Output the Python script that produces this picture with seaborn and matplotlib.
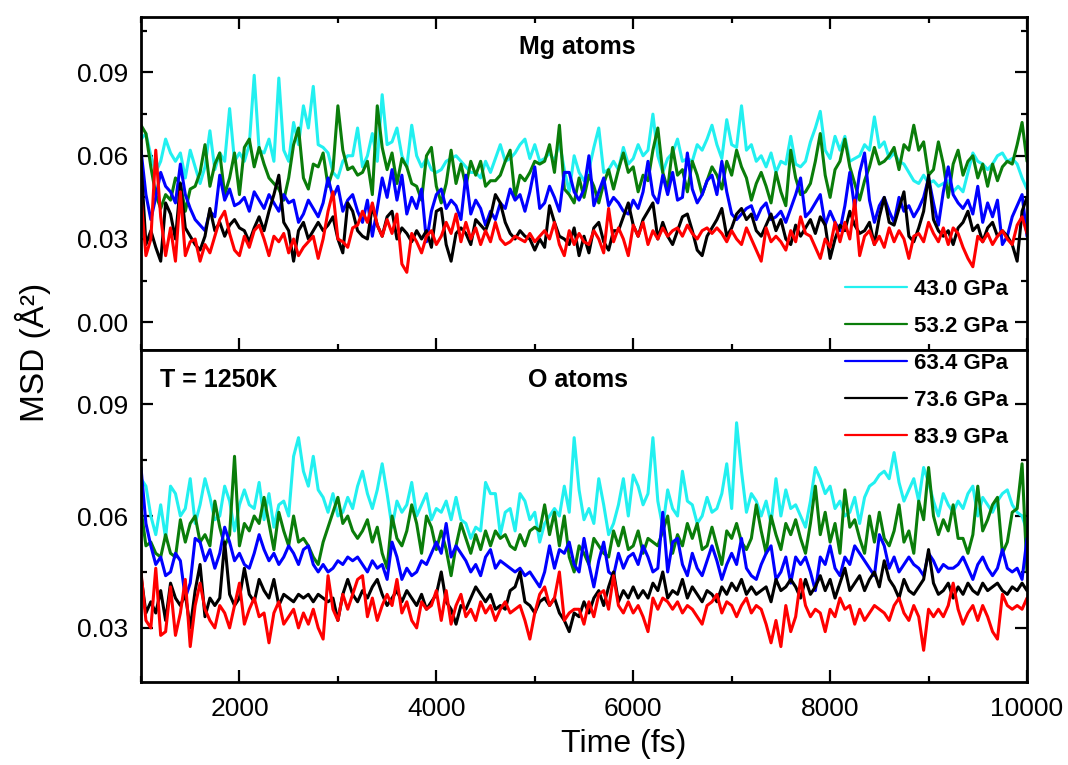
import numpy as np
import pandas as pd
import matplotlib
matplotlib.use("Agg")
import matplotlib.pyplot as plt
from matplotlib.ticker import MultipleLocator, FormatStrFormatter
import seaborn as sns

# ---------------- data (MSD in Å^2, sampled every 50 fs from 1000 to 10000 fs) ----------------
time_fs = np.arange(1000, 10001, 50)
pressures = ["43.0 GPa", "53.2 GPa", "63.4 GPa", "73.6 GPa", "83.9 GPa"]
line_colors = ["#22F0F0", "#0A7D0A", "#0000FF", "#000000", "#FF0000"]

# Mg atoms (top panel)
mg_430 = [0.066,0.068,0.060,0.054,0.058,0.066,0.061,0.058,0.061,0.052,
          0.062,0.056,0.050,0.056,0.069,0.055,0.061,0.058,0.077,0.058,
          0.061,0.058,0.064,0.089,0.062,0.061,0.066,0.058,0.088,0.062,
          0.058,0.072,0.064,0.078,0.070,0.085,0.064,0.063,0.061,0.054,
          0.052,0.058,0.060,0.060,0.070,
          0.056,0.060,0.068,0.058,0.082,0.064,0.065,0.070,0.060,0.056,
          0.071,0.060,0.056,0.059,0.055,0.054,0.055,0.058,0.059,0.060,
          0.058,0.056,0.054,0.054,0.052,0.058,0.054,0.059,0.064,0.058,
          0.059,0.061,0.064,0.066,0.059,0.064,0.058,0.059,0.061,0.058,
          0.065,0.055,0.047,0.060,
          0.054,0.051,0.055,0.063,0.070,0.054,0.055,0.058,0.055,0.063,
          0.057,0.059,0.064,0.060,0.062,0.075,0.060,0.054,0.059,0.061,
          0.066,0.058,0.059,0.058,0.064,0.062,0.066,0.071,0.064,0.059,
          0.073,0.064,0.063,0.078,0.062,0.064,0.058,0.060,0.056,0.061,
          0.054,0.058,0.057,0.067,
          0.057,0.056,0.058,0.065,0.070,0.076,0.062,0.059,0.067,0.062,
          0.067,0.058,0.059,0.060,0.064,0.062,0.074,0.063,0.065,0.059,
          0.061,0.058,0.057,0.054,0.051,0.050,0.053,0.050,0.051,0.049,
          0.050,0.051,0.047,0.049,0.047,0.054,0.061,0.058,0.057,0.055,
          0.057,0.060,0.061,0.058,0.059,0.057,0.052,0.048]
mg_532 = [0.071,0.068,0.056,0.046,0.041,0.046,0.044,0.052,0.050,0.040,
          0.048,0.049,0.054,0.064,0.049,0.057,0.061,0.046,0.052,0.061,
          0.046,0.063,0.066,0.056,0.063,0.057,0.052,0.050,0.048,0.044,
          0.052,0.064,0.070,0.052,0.048,0.057,0.056,0.061,0.049,0.055,
          0.078,0.062,0.055,0.056,0.053,
          0.054,0.058,0.046,0.078,0.063,0.055,0.061,0.050,0.059,0.056,
          0.050,0.049,0.044,0.060,0.063,0.049,0.043,0.050,0.062,0.050,
          0.057,0.049,0.058,0.053,0.058,0.049,0.051,0.051,0.053,0.058,
          0.062,0.045,0.053,0.051,0.054,0.058,0.057,0.058,0.064,0.054,
          0.071,0.048,0.046,0.043,
          0.052,0.045,0.053,0.049,0.043,0.050,0.055,0.048,0.055,0.061,
          0.054,0.056,0.047,0.053,0.051,0.062,0.070,0.054,0.048,0.063,
          0.053,0.055,0.047,0.058,0.053,0.046,0.051,0.056,0.053,0.048,
          0.058,0.053,0.062,0.056,0.052,0.044,0.050,0.054,0.049,0.043,
          0.054,0.047,0.042,0.062,
          0.052,0.046,0.047,0.050,0.058,0.068,0.053,0.045,0.055,0.058,
          0.066,0.056,0.050,0.044,0.051,0.056,0.063,0.057,0.058,0.060,
          0.063,0.055,0.064,0.062,0.071,0.062,0.065,0.053,0.055,0.065,
          0.057,0.045,0.057,0.062,0.053,0.058,0.060,0.052,0.057,0.049,
          0.057,0.051,0.056,0.058,0.057,0.064,0.072,0.058]
mg_634 = [0.062,0.046,0.037,0.045,0.054,0.049,0.047,0.043,0.057,0.046,
          0.041,0.037,0.035,0.033,0.040,0.038,0.053,0.044,0.048,0.042,
          0.043,0.045,0.040,0.047,0.044,0.041,0.046,0.043,0.040,0.046,
          0.043,0.044,0.036,0.039,0.044,0.041,0.038,0.043,0.052,0.045,
          0.049,0.040,0.044,0.046,0.040,
          0.036,0.044,0.031,0.041,0.052,0.045,0.055,0.044,0.053,0.039,
          0.045,0.041,0.048,0.029,0.040,0.046,0.048,0.041,0.044,0.042,
          0.037,0.053,0.039,0.044,0.041,0.035,0.040,0.037,0.043,0.041,
          0.048,0.044,0.046,0.040,0.047,0.056,0.041,0.043,0.049,0.045,
          0.040,0.054,0.054,0.047,
          0.044,0.048,0.060,0.042,0.047,0.052,0.042,0.045,0.043,0.040,
          0.039,0.044,0.041,0.047,0.058,0.046,0.043,0.053,0.046,0.054,
          0.044,0.045,0.061,0.048,0.043,0.046,0.051,0.053,0.046,0.058,
          0.047,0.039,0.037,0.039,0.041,0.042,0.037,0.041,0.043,0.037,
          0.038,0.040,0.036,0.041,
          0.046,0.052,0.038,0.040,0.043,0.046,0.035,0.040,0.036,0.033,
          0.042,0.054,0.041,0.054,0.061,0.044,0.036,0.042,0.045,0.040,
          0.036,0.045,0.040,0.042,0.038,0.041,0.045,0.052,0.043,0.035,
          0.047,0.056,0.046,0.043,0.041,0.044,0.039,0.049,0.036,0.043,
          0.038,0.044,0.028,0.031,0.038,0.042,0.046,0.031]
mg_736 = [0.058,0.028,0.033,0.027,0.022,0.043,0.039,0.030,0.050,0.034,
          0.031,0.028,0.026,0.031,0.041,0.033,0.036,0.031,0.035,0.037,
          0.034,0.033,0.029,0.034,0.038,0.033,0.040,0.046,0.053,0.036,
          0.033,0.022,0.033,0.036,0.030,0.033,0.036,0.033,0.035,0.038,
          0.030,0.025,0.043,0.040,0.033,
          0.031,0.030,0.042,0.035,0.031,0.038,0.040,0.030,0.034,0.032,
          0.029,0.033,0.030,0.033,0.027,0.040,0.041,0.028,0.022,0.032,
          0.034,0.032,0.028,0.037,0.035,0.033,0.038,0.046,0.043,0.036,
          0.032,0.030,0.033,0.031,0.030,0.026,0.030,0.027,0.042,0.036,
          0.031,0.030,0.028,0.034,
          0.024,0.031,0.025,0.034,0.036,0.029,0.026,0.033,0.033,0.038,
          0.043,0.035,0.031,0.037,0.040,0.043,0.030,0.036,0.031,0.028,
          0.033,0.038,0.039,0.033,0.026,0.024,0.031,0.034,0.037,0.041,
          0.031,0.034,0.039,0.041,0.037,0.039,0.033,0.031,0.035,0.039,
          0.033,0.037,0.030,0.028,
          0.035,0.031,0.034,0.037,0.032,0.038,0.035,0.023,0.030,0.035,
          0.033,0.040,0.035,0.032,0.033,0.036,0.028,0.038,0.045,0.036,
          0.035,0.041,0.047,0.031,0.029,0.034,0.040,0.053,0.037,0.033,
          0.031,0.033,0.028,0.034,0.036,0.040,0.033,0.035,0.029,0.034,
          0.036,0.031,0.033,0.031,0.028,0.022,0.040,0.045]
mg_839 = [0.045,0.024,0.030,0.062,0.038,0.024,0.034,0.022,0.047,0.024,
          0.029,0.030,0.022,0.028,0.025,0.031,0.037,0.040,0.032,0.026,
          0.024,0.031,0.027,0.033,0.035,0.030,0.024,0.031,0.029,0.032,
          0.025,0.030,0.024,0.027,0.029,0.031,0.023,0.030,0.040,0.047,
          0.030,0.029,0.027,0.034,0.035,
          0.040,0.036,0.043,0.035,0.031,0.037,0.032,0.039,0.021,0.018,
          0.032,0.029,0.025,0.031,0.033,0.028,0.031,0.036,0.032,0.039,
          0.029,0.036,0.030,0.034,0.028,0.033,0.029,0.036,0.030,0.028,
          0.029,0.031,0.030,0.029,0.032,0.029,0.031,0.033,0.030,0.036,
          0.028,0.024,0.033,0.028,
          0.032,0.029,0.028,0.033,0.030,0.025,0.041,0.029,0.034,0.030,
          0.024,0.035,0.031,0.036,0.028,0.033,0.030,0.034,0.031,0.033,
          0.034,0.031,0.035,0.032,0.030,0.033,0.034,0.032,0.034,0.032,
          0.029,0.033,0.030,0.028,0.034,0.030,0.026,0.022,0.034,0.029,
          0.031,0.029,0.026,0.033,
          0.029,0.038,0.032,0.031,0.027,0.023,0.030,0.027,0.036,0.029,
          0.036,0.030,0.044,0.024,0.031,0.033,0.028,0.031,0.027,0.034,
          0.029,0.033,0.030,0.023,0.031,0.032,0.029,0.036,0.032,0.029,
          0.034,0.028,0.034,0.032,0.027,0.023,0.020,0.031,0.029,0.032,
          0.028,0.031,0.033,0.030,0.028,0.035,0.038,0.032]

# O atoms (bottom panel)
o_430 = [0.070,0.068,0.060,0.055,0.063,0.054,0.068,0.066,0.060,0.062,
         0.070,0.058,0.063,0.070,0.065,0.059,0.060,0.068,0.064,0.056,
         0.063,0.067,0.063,0.062,0.069,0.059,0.066,0.057,0.063,0.064,
         0.060,0.076,0.081,0.072,0.068,0.076,0.067,0.065,0.061,0.066,
         0.060,0.061,0.065,0.062,0.068,
         0.072,0.066,0.062,0.067,0.074,0.066,0.057,0.064,0.061,0.063,
         0.069,0.060,0.063,0.066,0.059,0.062,0.061,0.064,0.059,0.065,
         0.059,0.058,0.054,0.057,0.056,0.069,0.066,0.066,0.055,0.061,
         0.062,0.056,0.066,0.064,0.059,0.061,0.053,0.058,0.060,0.062,
         0.060,0.068,0.061,0.081,
         0.067,0.059,0.062,0.058,0.070,0.063,0.055,0.058,0.063,0.070,
         0.060,0.071,0.068,0.063,0.066,0.081,0.064,0.057,0.067,0.062,
         0.060,0.072,0.064,0.063,0.058,0.060,0.065,0.061,0.062,0.066,
         0.074,0.062,0.085,0.072,0.061,0.066,0.064,0.060,0.064,0.058,
         0.070,0.060,0.067,0.062,
         0.063,0.060,0.057,0.064,0.073,0.070,0.066,0.068,0.062,0.064,
         0.060,0.061,0.065,0.058,0.065,0.068,0.069,0.071,0.072,0.070,
         0.077,0.069,0.064,0.067,0.070,0.064,0.073,0.069,0.064,0.060,
         0.066,0.063,0.061,0.064,0.062,0.066,0.068,0.060,0.065,0.063,
         0.061,0.064,0.066,0.067,0.063,0.061,0.060,0.056]
o_532 = [0.062,0.052,0.053,0.050,0.049,0.055,0.050,0.049,0.059,0.053,
         0.058,0.060,0.053,0.055,0.052,0.064,0.057,0.052,0.055,0.076,
         0.052,0.058,0.056,0.060,0.058,0.065,0.058,0.051,0.061,0.056,
         0.052,0.060,0.053,0.054,0.052,0.049,0.047,0.053,0.057,0.061,
         0.065,0.058,0.060,0.056,0.054,
         0.056,0.059,0.053,0.057,0.050,0.046,0.060,0.054,0.052,0.056,
         0.063,0.058,0.050,0.060,0.057,0.051,0.056,0.051,0.044,0.052,
         0.058,0.054,0.050,0.055,0.051,0.056,0.052,0.056,0.054,0.055,
         0.052,0.051,0.055,0.052,0.056,0.057,0.056,0.063,0.055,0.061,
         0.052,0.060,0.049,0.045,
         0.052,0.050,0.047,0.054,0.052,0.050,0.049,0.056,0.052,0.057,
         0.051,0.052,0.056,0.050,0.054,0.053,0.052,0.056,0.060,0.050,
         0.055,0.052,0.058,0.054,0.058,0.051,0.052,0.057,0.052,0.047,
         0.056,0.054,0.058,0.053,0.051,0.054,0.063,0.056,0.050,0.060,
         0.055,0.051,0.058,0.055,
         0.059,0.054,0.050,0.058,0.068,0.055,0.061,0.053,0.058,0.050,
         0.067,0.057,0.059,0.054,0.050,0.060,0.053,0.061,0.054,0.052,
         0.056,0.063,0.053,0.056,0.050,0.064,0.059,0.073,0.060,0.055,
         0.059,0.056,0.063,0.054,0.054,0.050,0.055,0.068,0.056,0.059,
         0.063,0.065,0.050,0.053,0.061,0.062,0.074,0.045]
o_634 = [0.073,0.058,0.052,0.047,0.049,0.044,0.045,0.050,0.048,0.038,
         0.042,0.054,0.053,0.048,0.051,0.046,0.050,0.057,0.053,0.048,
         0.050,0.047,0.046,0.050,0.055,0.051,0.048,0.050,0.047,0.049,
         0.052,0.050,0.047,0.051,0.052,0.047,0.045,0.047,0.045,0.046,
         0.048,0.047,0.049,0.048,0.049,
         0.047,0.045,0.048,0.046,0.047,0.043,0.053,0.049,0.043,0.046,
         0.044,0.045,0.048,0.047,0.050,0.053,0.050,0.058,0.049,0.052,
         0.050,0.048,0.045,0.047,0.044,0.049,0.051,0.046,0.048,0.047,
         0.046,0.045,0.046,0.044,0.045,0.043,0.041,0.045,0.052,0.046,
         0.051,0.050,0.053,0.047,
         0.045,0.054,0.047,0.041,0.048,0.053,0.045,0.044,0.050,0.046,
         0.049,0.050,0.047,0.052,0.049,0.045,0.046,0.061,0.045,0.053,
         0.054,0.047,0.044,0.050,0.046,0.044,0.048,0.052,0.048,0.043,
         0.047,0.050,0.047,0.054,0.046,0.044,0.043,0.047,0.050,0.052,
         0.043,0.045,0.049,0.042,
         0.049,0.047,0.049,0.045,0.040,0.049,0.047,0.052,0.046,0.044,
         0.049,0.047,0.052,0.050,0.048,0.046,0.044,0.055,0.052,0.046,
         0.049,0.045,0.047,0.049,0.047,0.046,0.044,0.050,0.048,0.045,
         0.047,0.046,0.046,0.047,0.049,0.046,0.043,0.047,0.049,0.046,
         0.044,0.046,0.051,0.046,0.045,0.046,0.043,0.054]
o_736 = [0.044,0.034,0.037,0.034,0.040,0.032,0.042,0.038,0.036,0.039,
         0.030,0.040,0.047,0.033,0.038,0.036,0.038,0.053,0.039,0.036,
         0.038,0.046,0.039,0.037,0.043,0.040,0.038,0.043,0.036,0.039,
         0.038,0.037,0.039,0.038,0.039,0.037,0.039,0.038,0.037,0.038,
         0.032,0.039,0.043,0.039,0.037,
         0.040,0.038,0.041,0.043,0.039,0.036,0.038,0.040,0.037,0.040,
         0.038,0.036,0.039,0.035,0.037,0.039,0.045,0.037,0.035,0.031,
         0.036,0.035,0.038,0.041,0.039,0.037,0.039,0.035,0.036,0.035,
         0.040,0.041,0.045,0.037,0.036,0.034,0.037,0.038,0.036,0.038,
         0.034,0.032,0.029,0.034,
         0.033,0.037,0.034,0.038,0.040,0.036,0.041,0.045,0.037,0.040,
         0.038,0.041,0.038,0.040,0.038,0.042,0.040,0.045,0.038,0.040,
         0.039,0.043,0.038,0.041,0.039,0.037,0.040,0.039,0.037,0.041,
         0.039,0.042,0.040,0.043,0.039,0.041,0.039,0.040,0.041,0.037,
         0.043,0.040,0.041,0.043,
         0.041,0.038,0.043,0.039,0.041,0.044,0.040,0.043,0.038,0.042,
         0.046,0.040,0.042,0.044,0.040,0.043,0.045,0.041,0.048,0.043,
         0.041,0.038,0.043,0.040,0.039,0.041,0.043,0.051,0.042,0.039,
         0.040,0.042,0.038,0.041,0.039,0.042,0.040,0.039,0.042,0.040,
         0.041,0.042,0.040,0.039,0.041,0.040,0.042,0.040]
o_839 = [0.045,0.032,0.030,0.046,0.028,0.029,0.041,0.028,0.034,0.043,
         0.025,0.036,0.042,0.035,0.032,0.030,0.036,0.034,0.030,0.036,
         0.042,0.031,0.035,0.038,0.033,0.034,0.026,0.034,0.037,0.031,
         0.033,0.035,0.030,0.034,0.031,0.035,0.030,0.027,0.044,0.035,
         0.032,0.039,0.035,0.039,0.043,
         0.044,0.033,0.038,0.032,0.036,0.039,0.036,0.043,0.034,0.037,
         0.032,0.030,0.037,0.035,0.036,0.040,0.032,0.040,0.031,0.036,
         0.039,0.033,0.035,0.032,0.037,0.034,0.036,0.032,0.035,0.037,
         0.034,0.035,0.036,0.032,0.027,0.034,0.039,0.041,0.036,0.038,
         0.045,0.032,0.034,0.035,
         0.035,0.031,0.037,0.033,0.039,0.040,0.035,0.044,0.036,0.034,
         0.037,0.034,0.036,0.033,0.029,0.038,0.035,0.038,0.037,0.035,
         0.037,0.034,0.036,0.035,0.033,0.031,0.036,0.037,0.039,0.034,
         0.037,0.036,0.033,0.036,0.038,0.034,0.036,0.035,0.031,0.026,
         0.032,0.025,0.036,0.029,
         0.033,0.043,0.036,0.033,0.035,0.034,0.029,0.035,0.033,0.038,
         0.035,0.036,0.031,0.035,0.032,0.034,0.036,0.035,0.034,0.032,
         0.036,0.038,0.034,0.032,0.036,0.033,0.024,0.035,0.033,0.035,
         0.033,0.036,0.042,0.035,0.031,0.034,0.036,0.032,0.036,0.033,
         0.029,0.027,0.039,0.036,0.035,0.036,0.035,0.038]

mg_series = [mg_430, mg_532, mg_634, mg_736, mg_839]
o_series = [o_430, o_532, o_634, o_736, o_839]


def long_frame(series_list):
    frames = []
    for lab, vals in zip(pressures, series_list):
        frames.append(pd.DataFrame({"Time": time_fs, "MSD": vals, "Pressure": lab}))
    return pd.concat(frames, ignore_index=True)


# ---------------- style ----------------
sns.set_style("ticks")
plt.rcParams["font.family"] = ["Liberation Sans", "DejaVu Sans"]
plt.rcParams["text.color"] = "black"
plt.rcParams["axes.labelcolor"] = "black"
plt.rcParams["xtick.color"] = "black"
plt.rcParams["ytick.color"] = "black"
plt.rcParams["axes.edgecolor"] = "black"

W, H = 1068, 765
fig = plt.figure(figsize=(W / 100, H / 100), dpi=100)
left, right = 141, 1027
ax1 = fig.add_axes([left / W, 1 - 350 / H, (right - left) / W, 333 / H])
ax2 = fig.add_axes([left / W, 1 - 682 / H, (right - left) / W, 332 / H])

palette = dict(zip(pressures, line_colors))
for ax, series in ((ax1, mg_series), (ax2, o_series)):
    sns.lineplot(data=long_frame(series), x="Time", y="MSD", hue="Pressure",
                 hue_order=pressures, palette=palette, ax=ax, lw=2.2,
                 estimator=None, sort=False, legend=False)
    ax.set_xlim(1000, 10000)
    ax.set_xlabel("")
    ax.set_ylabel("")
    ax.xaxis.set_major_locator(MultipleLocator(2000))
    ax.xaxis.set_minor_locator(MultipleLocator(1000))
    ax.yaxis.set_major_locator(MultipleLocator(0.03))
    ax.yaxis.set_minor_locator(MultipleLocator(0.015))
    ax.yaxis.set_major_formatter(FormatStrFormatter("%.2f"))
    for sp in ax.spines.values():
        sp.set_linewidth(2.0)
        sp.set_color("black")
        sp.set_visible(True)
    ax.tick_params(which="both", direction="in", left=True, right=True,
                   bottom=True, width=1.6, color="black",
                   labelsize=19, labelcolor="black")
    ax.tick_params(which="major", length=8.5)
    ax.tick_params(which="minor", length=4.5)
    ax.tick_params(axis="y", pad=9)
    ax.tick_params(axis="x", pad=11)

ax1.set_ylim(-0.01, 0.11)
ax2.set_ylim(0.0155, 0.1045)
ax1.tick_params(which="both", top=True, labelbottom=False)
ax2.tick_params(which="both", top=False)

ax1.text(0.493, 0.91, "Mg atoms", transform=ax1.transAxes, ha="center",
         va="center", fontsize=18, fontweight="bold", color="black")
ax2.text(0.493, 0.91, "O atoms", transform=ax2.transAxes, ha="center",
         va="center", fontsize=18, fontweight="bold", color="black")
ax2.text(0.021, 0.91, "T = 1250K", transform=ax2.transAxes, ha="left",
         va="center", fontsize=18, fontweight="bold", color="black")

fig.text(33 / W, 1 - 352 / H, "MSD (Å²)", rotation=90, ha="center",
         va="center", fontsize=24, color="black")
fig.text(624 / W, 1 - 744 / H, "Time (fs)", ha="center", va="center",
         fontsize=23, color="black")

handles = list(ax1.lines[:5])
leg = fig.legend(handles=handles, labels=pressures, loc="upper left",
                 bbox_to_anchor=(845 / W, 1 - 279 / H), frameon=False,
                 borderpad=0, borderaxespad=0, handlelength=2.8,
                 handletextpad=0.3, labelspacing=0.72,
                 prop={"size": 16, "weight": "bold"})
for ln in leg.get_lines():
    ln.set_linewidth(1.6)
for t in leg.get_texts():
    t.set_color("black")

fig.savefig("out.png", dpi=100)
